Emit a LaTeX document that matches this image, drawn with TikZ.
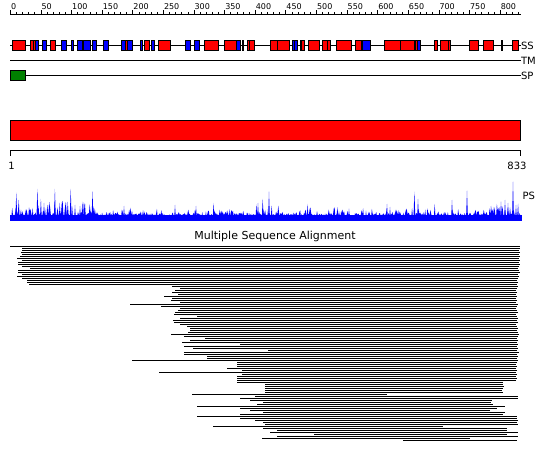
\documentclass[tikz,border=0pt]{standalone}
\usepackage{fontspec}
\setmainfont{DejaVu Sans}
\definecolor{ssred}{RGB}{255,0,0}
\definecolor{ssblue}{RGB}{0,0,255}
\definecolor{spgreen}{RGB}{0,128,0}
\begin{document}
\begin{tikzpicture}[x=1pt,y=-1pt,line width=1pt,
  rulerlbl/.style={anchor=base west,inner sep=0pt,font=\fontsize{8}{8}\selectfont},
  tracklbl/.style={anchor=west,inner sep=0pt,font=\fontsize{10}{10}\selectfont},
  ssbox/.style={draw=black,line width=0.8pt},
  msaline/.style={line width=1pt,black}]
\useasboundingbox (0,0) rectangle (550,465);
% ruler
\draw (10,14.5) -- (520.5,14.5);
\foreach \r in {0,10,...,830} \draw ({10.5+\r*0.6122},14.5) -- ++(0,-2.5);
\foreach \r in {0,50,...,800} {
  \draw ({10.5+\r*0.6122},14.5) -- ++(0,-4.5);
  \node[rulerlbl] (r\r) at ({10.5+\r*0.6122},10) {\r};
}
% SS / TM / SP tracks
\draw (10,45.5) -- (520.5,45.5);
\node[tracklbl] (ss) at (520.5,45.5) {SS};
\draw (10,60.5) -- (520.5,60.5);
\node[tracklbl] (tm) at (520.5,60.5) {TM};
\draw (10,75.5) -- (520.5,75.5);
\node[tracklbl] (sp) at (520.5,75.5) {SP};
\foreach \a/\b/\c in {12.3/25.7/ssred, 30/33/ssred, 33/35.5/ssred, 35.5/38.3/ssblue,
  42/46.7/ssblue, 50/55.7/ssred, 61/66/ssblue, 71/73.7/ssblue, 77/82.3/ssblue, 83/90/ssblue,
  92.3/96.7/ssblue, 103.3/108.7/ssblue, 121/125/ssblue, 125/127.5/ssred, 127.5/132.7/ssblue,
  140/142.7/ssblue, 144.3/149/ssred, 151/154/ssblue, 158.3/170/ssred, 185/190.7/ssblue,
  194/199/ssblue, 204.3/218.7/ssred, 224.3/236.7/ssred, 236.7/240.7/ssblue, 242/243.7/ssblue,
  247/249/ssred, 249/254/ssred, 270/277/ssred, 277/289/ssred, 292/294.5/ssblue, 294.5/297.7/ssblue,
  300/301.5/ssred, 301.5/304/ssred, 308.3/319/ssred, 322.3/327/ssred, 327/330.7/ssred,
  336.3/351.7/ssred, 355.3/361/ssred, 362.3/370.7/ssblue, 384.3/400/ssred, 400/414/ssred,
  415/417.5/ssred, 417.5/420.7/ssblue, 434/437.7/ssred, 440/448/ssred, 448/450/ssred,
  469.3/478.7/ssred, 483.3/493.3/ssred, 501/502.3/black, 512.3/518.3/ssred}
  \filldraw[ssbox,fill=\c] (\a,40.5) rectangle (\b,50.5);
\filldraw[ssbox,fill=spgreen] (10.5,70.5) rectangle (25.5,80.5);
% domain bar
\filldraw[fill=ssred,draw=black] (10.5,120.5) rectangle (520.5,140.5);
\draw (10.5,156) -- (10.5,150.5) -- (520.5,150.5) -- (520.5,156);
\node[anchor=base,inner sep=0pt,font=\fontsize{10}{10}\selectfont] (one) at (11.5,170) {1};
\node[anchor=base,inner sep=0pt,font=\fontsize{10}{10}\selectfont] (end) at (517,170) {833};
% PS profile
\pgfmathsetseed{4242}
\fill[ssblue] (10,220.5) -- plot[domain=10:521,samples=700]
  (\x,{220.5-(3+4*rnd+7*rnd^4*(1+1.2*(\x<100)+0.8*(\x>490)+0.6*(\x>250)*(\x<280)))}) -- (521,220.5) -- cycle;
\fill[ssblue] (10,221) rectangle (522,215.5);
\draw[ssblue] (10,220.5) -- (522,220.5);
\foreach \p/\t in {16.3/192.7, 37.4/189, 40.9/199, 44/203, 48/205, 54.9/189, 62/204, 66/203,
  70.7/189, 75/205, 80/206, 85/204, 92.5/191.7, 124/206, 175/205, 196/206, 213.6/203, 258/203,
  262.7/199, 269/191.7, 307.6/204, 349/208.7, 387/204, 390/207, 414.4/191.7, 418/199, 434.7/204,
  452/200, 467/190.7, 501/201.7, 505/200, 508/203, 513/181.7, 516/205}
  \fill[ssblue] ({\p-1},220.5) -- (\p,\t) -- ({\p+1},220.5) -- cycle;
\node[tracklbl] (ps) at (522,196) {PS};
% MSA
\node[inner sep=0pt,font=\fontsize{11}{11}\selectfont] (msa) at (275,236) {Multiple Sequence Alignment};
\foreach \a/\b [count=\i from 0] in {10/520, 22/520, 22/519, 21/520, 22/519, 20/520, 17/519, 22/520,
  18/519, 18/520, 22/519, 30/518, 18/519, 18/520, 22/518, 17/519, 22/518, 27/517, 27/518, 29/517,
  172/518, 180/517, 175/516, 172/517, 178/516, 164/517, 172/516, 171/517, 180/516, 130/518,
  161/517, 180/516, 178/517, 175/518, 174/516, 197/517, 180/518, 173/517, 174/518, 180/516,
  187/517, 190/518, 190/517, 188/518, 171/519, 184/518, 205/517, 190/518, 182/517, 240/518,
  184/517, 193/518, 268/517, 184/519, 184/517, 207/518, 207/517, 132/518, 237/517, 237/516,
  237/517, 227/516, 242/517, 159/516, 242/517, 237/516, 237/517, 237/516, 237/503, 265/503,
  265/504, 265/503, 265/502, 265/503, 192/387, 255/518, 240/518, 250/492, 263/491, 257/493,
  197/505, 240/497, 250/490, 263/505, 240/503, 197/517, 240/517, 255/518, 263/517, 265/518,
  213/443, 263/507, 277/507, 270/518, 314/507, 277/518, 262/470, 403/517}
  \draw[msaline] (\a,{246.5+2*\i}) -- (\b,{246.5+2*\i});
\end{tikzpicture}
\end{document}
